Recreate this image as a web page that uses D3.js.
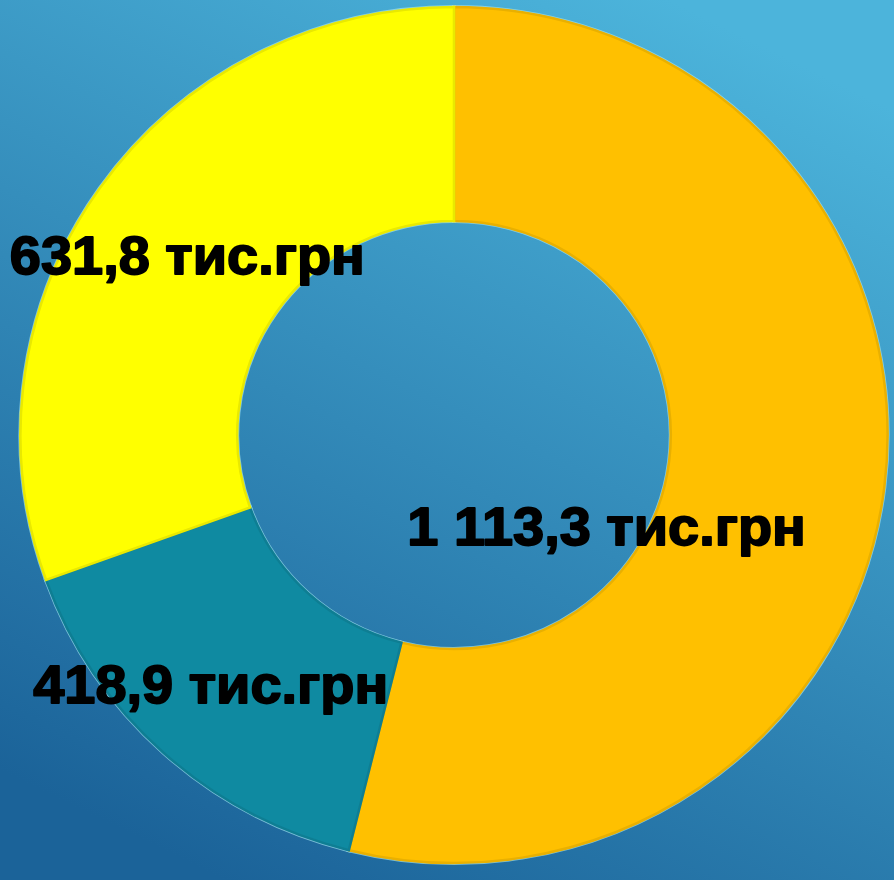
<!DOCTYPE html>
<html lang="uk">
<head>
<meta charset="utf-8">
<title>Donut</title>
<script src="https://cdn.jsdelivr.net/npm/d3@7/dist/d3.min.js"></script>
<style>
  html, body { margin: 0; padding: 0; }
  body { width: 894px; height: 880px; overflow: hidden; }
</style>
</head>
<body>
<script>
// values shown on the labels (тис.грн)
var categories = ["a", "b", "c"];
var values = [1113.3, 418.9, 631.8];
// share of the ring each slice takes in the picture, in percent
var shares = [53.9, 15.6, 30.5];
var labels = ["1 113,3 тис.грн", "418,9 тис.грн", "631,8 тис.грн"];
var colors = ["#ffc000", "#0f8aa1", "#ffff00"];

var width = 894, height = 880;
var cx = 454, cy = 435;
var outerR = 428, innerR = 214;

// label placement relative to each slice centroid
var labelShift = [[-166, 71], [-28, 30], [-4, 24]];

var svg = d3.select("body").append("svg")
    .attr("width", width)
    .attr("height", height);

var defs = svg.append("defs");
var bg = defs.append("linearGradient")
    .attr("id", "bg")
    .attr("x1", "0.75").attr("y1", "0")
    .attr("x2", "0.25").attr("y2", "1");
bg.append("stop").attr("offset", "0").attr("stop-color", "#4cb4db");
bg.append("stop").attr("offset", "1").attr("stop-color", "#1b6399");

svg.append("rect")
    .attr("width", width)
    .attr("height", height)
    .attr("fill", "url(#bg)");

var data = categories.map(function(c, i) {
    return {cat: c, value: values[i], share: shares[i], label: labels[i], color: colors[i]};
});

var pie = d3.pie()
    .sort(null)
    .value(function(d) { return d.share; });

var arc = d3.arc()
    .innerRadius(innerR)
    .outerRadius(outerR);

var mid = d3.arc()
    .innerRadius((innerR + outerR) / 2)
    .outerRadius((innerR + outerR) / 2);

var arcs = pie(data);

var g = svg.append("g")
    .attr("transform", "translate(" + cx + "," + cy + ") scale(1.013,1)");

g.selectAll("path.light")
    .data(arcs)
    .enter()
    .append("path")
    .attr("class", "light")
    .attr("d", arc)
    .attr("fill", "none")
    .attr("stroke", "#9fe3f0")
    .attr("stroke-opacity", 0.7)
    .attr("stroke-width", 4);

g.selectAll("path.slice")
    .data(arcs)
    .enter()
    .append("path")
    .attr("class", "slice")
    .attr("d", arc)
    .attr("fill", function(d) { return d.data.color; })
    .attr("stroke", function(d) { return d3.color(d.data.color).darker(0.25); })
    .attr("stroke-width", 2.5);

svg.selectAll("text.lbl")
    .data(arcs)
    .enter()
    .append("text")
    .attr("class", "lbl")
    .attr("transform", function(d, i) {
        var x = cx + mid.centroid(d)[0] + labelShift[i][0];
        var y = cy + mid.centroid(d)[1] + labelShift[i][1];
        return "translate(" + x + "," + y + ") scale(1.055,1)";
    })
    .attr("text-anchor", "middle")
    .attr("font-family", "Liberation Sans, Arial, sans-serif")
    .attr("font-weight", "bold")
    .attr("font-size", 53)
    .attr("fill", "#000")
    .attr("stroke", "#000")
    .attr("stroke-width", 1.8)
    .attr("stroke-linejoin", "round")
    .text(function(d) { return d.data.label; });
</script>
</body>
</html>
